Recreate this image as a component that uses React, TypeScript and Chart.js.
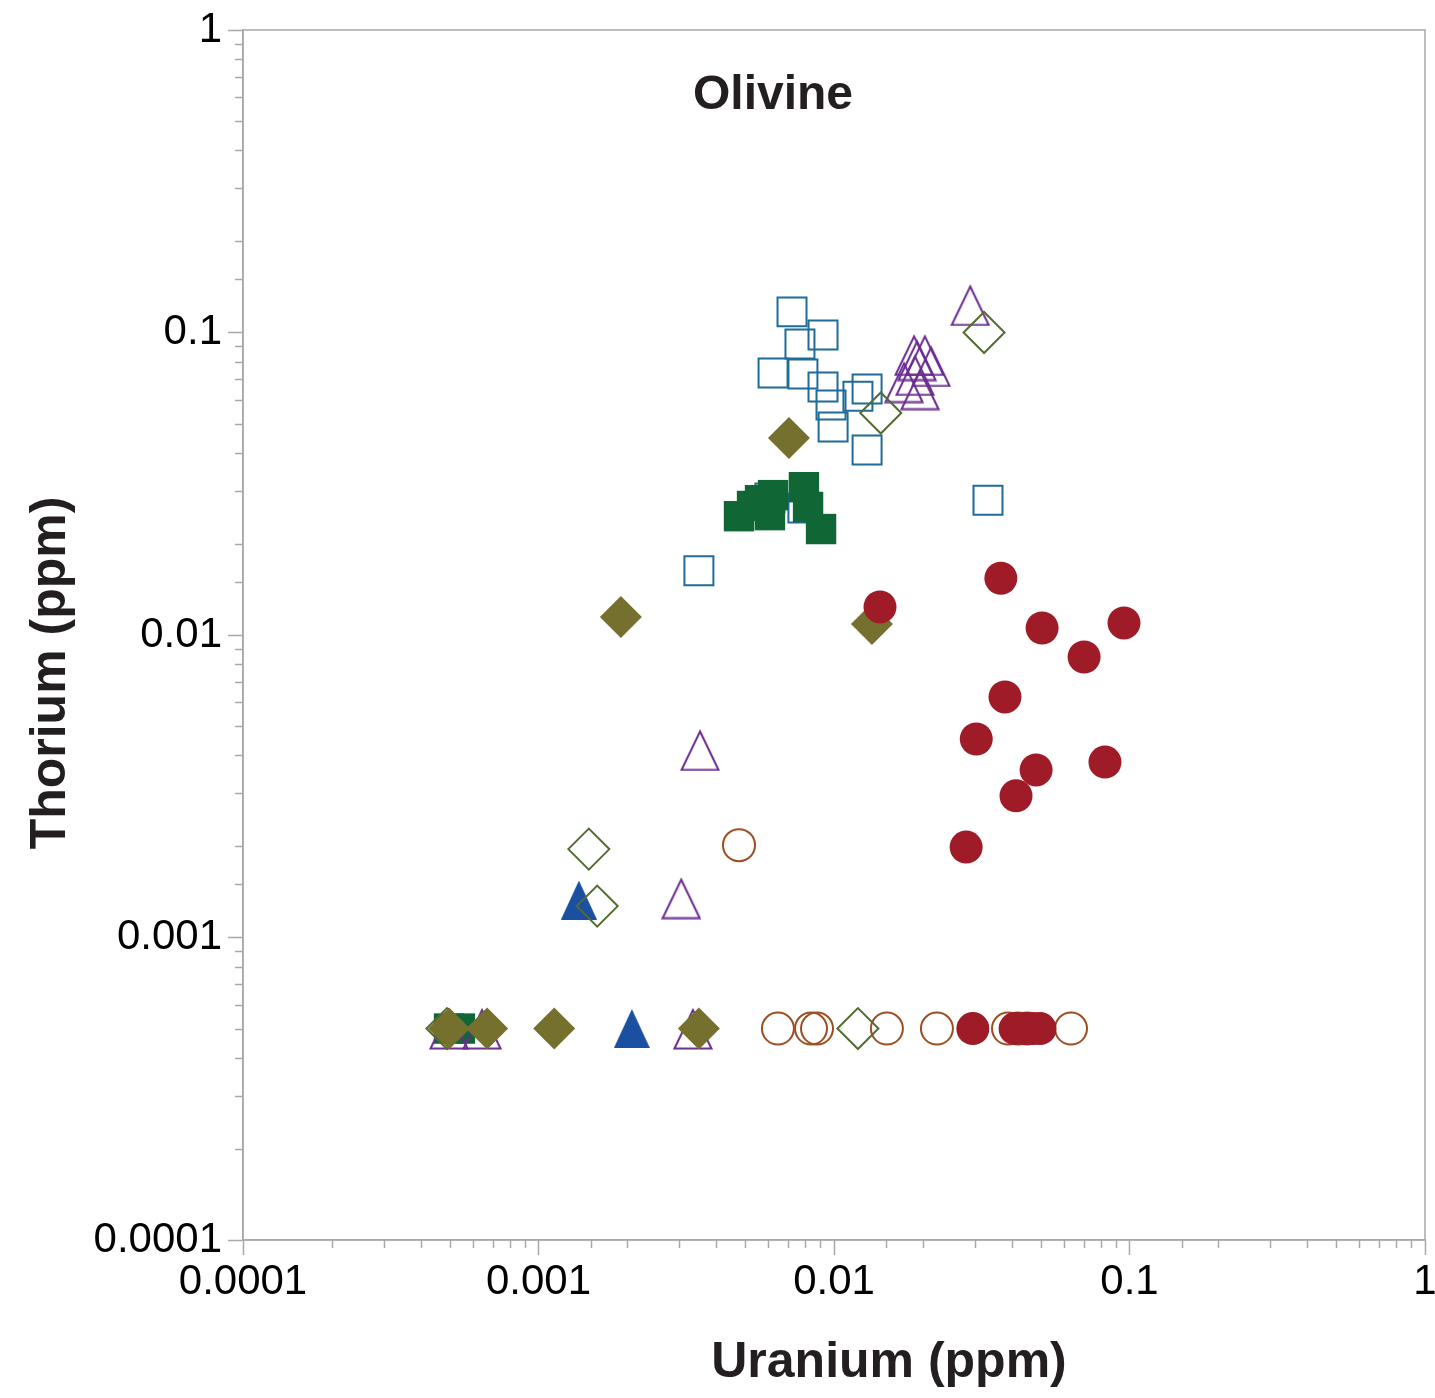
import React, { useEffect, useRef } from 'react';
import { Chart, registerables } from 'chart.js';

Chart.register(...registerables);

// ---------- text ----------
const chartTitle = 'Olivine';
const xTitle = 'Uranium (ppm)';
const yTitle = 'Thorium (ppm)';
const xTickLabels = ['0.0001', '0.001', '0.01', '0.1', '1'];
const yTickLabels = ['0.0001', '0.001', '0.01', '0.1', '1'];

// ---------- data ----------
const blueOpenSquaresX = [0.00721, 0.00918, 0.00767, 0.00622, 0.00785, 0.00918, 0.00977, 0.00993, 0.01205, 0.01294, 0.01294, 0.0332, 0.00349, 0.00607, 0.00785];
const blueOpenSquaresY = [0.117, 0.0981, 0.0916, 0.0735, 0.0729, 0.066, 0.0576, 0.0487, 0.0615, 0.065, 0.0409, 0.0279, 0.0163, 0.0284, 0.0263];

const greenSquaresX = [0.00477, 0.00528, 0.00562, 0.00607, 0.00622, 0.00791, 0.00817, 0.00904, 0.000498, 0.000542];
const greenSquaresY = [0.0247, 0.0267, 0.0279, 0.0249, 0.029, 0.0308, 0.0265, 0.0224, 0.0005, 0.0005];

const oliveDiamondsX = [0.00704, 0.0019, 0.01344, 0.000498, 0.00067, 0.00113, 0.00349];
const oliveDiamondsY = [0.0448, 0.01147, 0.01087, 0.0005, 0.0005, 0.0005, 0.0005];

const greenOpenDiamondsX = [0.0322, 0.0144, 0.00148, 0.00158, 0.01205, 0.00049];
const greenOpenDiamondsY = [0.1, 0.0542, 0.00196, 0.00127, 0.0005, 0.0005];

const purpleOpenTrianglesX = [0.0289, 0.01866, 0.0203, 0.0191, 0.0213, 0.0188, 0.01726, 0.01955, 0.00352, 0.00304, 0.000498, 0.000644, 0.00333];
const purpleOpenTrianglesY = [0.1233, 0.0843, 0.0843, 0.0811, 0.0775, 0.0724, 0.0686, 0.065, 0.00417, 0.00135, 0.0005, 0.0005, 0.0005];

const blueTrianglesX = [0.00137, 0.00207];
const blueTrianglesY = [0.00133, 0.0005];

const brownOpenCirclesX = [0.00477, 0.00646, 0.00836, 0.00876, 0.0151, 0.0223, 0.0388, 0.042, 0.045, 0.0634];
const brownOpenCirclesY = [0.00202, 0.0005, 0.0005, 0.0005, 0.0005, 0.0005, 0.0005, 0.0005, 0.0005, 0.0005];

const redCirclesX = [0.01431, 0.0367, 0.0506, 0.0958, 0.0702, 0.0379, 0.0303, 0.0483, 0.0826, 0.0413, 0.028, 0.0295, 0.041, 0.0443, 0.0471, 0.0498];
const redCirclesY = [0.01238, 0.0154, 0.01055, 0.01096, 0.00846, 0.00624, 0.00453, 0.00358, 0.0038, 0.00294, 0.00199, 0.0005, 0.0005, 0.0005, 0.0005, 0.0005];

// ---------- helpers ----------
const FONT = "'Liberation Sans', Arial, Helvetica, sans-serif";
const AXIS_GRAY = '#a8a8a8';

const zip = (xs: number[], ys: number[]) => xs.map((x, i) => ({ x, y: ys[i] }));
const isPow10 = (v: number) => {
  const l = Math.log10(v);
  return Math.abs(l - Math.round(l)) < 1e-9;
};

function makeTriangle(w: number, h: number, color: string, filled: boolean, lw: number) {
  const c = document.createElement('canvas');
  c.width = w;
  c.height = h;
  const g = c.getContext('2d')!;
  const m = filled ? 0 : lw / 2 + 0.5;
  g.beginPath();
  g.moveTo(w / 2, filled ? 0 : 3);
  g.lineTo(w - m, h - m);
  g.lineTo(m, h - m);
  g.closePath();
  if (filled) {
    g.fillStyle = color;
    g.fill();
  } else {
    g.strokeStyle = color;
    g.lineWidth = lw;
    g.lineJoin = 'miter';
    g.stroke();
  }
  return c;
}

const decorPlugin = {
  id: 'decor',
  afterDraw(chart: any) {
    const { ctx, chartArea: a, scales } = chart;
    ctx.save();
    // frame
    ctx.strokeStyle = AXIS_GRAY;
    ctx.lineWidth = 1.5;
    ctx.strokeRect(a.left, a.top, a.right - a.left, a.bottom - a.top);
    // minor ticks
    const xs = scales.x;
    xs.ticks.forEach((t: any) => {
      if (isPow10(t.value)) return;
      const px = Math.round(xs.getPixelForValue(t.value)) + 0.5;
      ctx.beginPath();
      ctx.moveTo(px, a.bottom);
      ctx.lineTo(px, a.bottom + 8);
      ctx.stroke();
    });
    const ys = scales.y;
    ys.ticks.forEach((t: any) => {
      if (isPow10(t.value)) return;
      const py = Math.round(ys.getPixelForValue(t.value)) + 0.5;
      ctx.beginPath();
      ctx.moveTo(a.left, py);
      ctx.lineTo(a.left - 8, py);
      ctx.stroke();
    });
    // titles
    ctx.fillStyle = '#231f20';
    ctx.textAlign = 'center';
    ctx.textBaseline = 'alphabetic';
    ctx.font = `bold 48px ${FONT}`;
    ctx.fillText(chartTitle, a.left + 530, a.top + 79);
    ctx.font = `bold 50px ${FONT}`;
    ctx.fillText(xTitle, a.left + 646, a.bottom + 137);
    ctx.save();
    ctx.translate(a.left - 178, a.top + 643);
    ctx.rotate(-Math.PI / 2);
    ctx.fillText(yTitle, 0, 0);
    ctx.restore();
    ctx.restore();
  },
};

export default function App() {
  const ref = useRef<HTMLCanvasElement | null>(null);

  useEffect(() => {
    document.body.style.margin = '0';
    if (!ref.current) return;
    const purpleTri = makeTriangle(40, 43, '#6a2c91', false, 2);
    const blueTri = makeTriangle(36, 39, '#1b4f9f', true, 0);

    const datasets: any[] = [
      {
        label: 'red filled circles',
        data: zip(redCirclesX, redCirclesY),
        pointStyle: 'circle',
        pointRadius: 16.5,
        backgroundColor: '#9e1b27',
        borderColor: '#9e1b27',
        borderWidth: 0,
        order: 1,
      },
      {
        label: 'olive filled diamonds',
        data: zip(oliveDiamondsX, oliveDiamondsY),
        pointStyle: 'rectRot',
        pointRadius: 21,
        backgroundColor: '#76702e',
        borderColor: '#76702e',
        borderWidth: 0,
        order: 2,
      },
      {
        label: 'green open diamonds',
        data: zip(greenOpenDiamondsX, greenOpenDiamondsY),
        pointStyle: 'rectRot',
        pointRadius: 20.5,
        backgroundColor: 'rgba(0,0,0,0)',
        borderColor: '#536c31',
        borderWidth: 2,
        order: 3,
      },
      {
        label: 'blue filled triangles',
        data: zip(blueTrianglesX, blueTrianglesY),
        pointStyle: blueTri,
        pointRadius: 18,
        order: 4,
      },
      {
        label: 'purple open triangles',
        data: zip(purpleOpenTrianglesX, purpleOpenTrianglesY),
        pointStyle: purpleTri,
        pointRadius: 20,
        order: 5,
      },
      {
        label: 'brown open circles',
        data: zip(brownOpenCirclesX, brownOpenCirclesY),
        pointStyle: 'circle',
        pointRadius: 16,
        backgroundColor: 'rgba(0,0,0,0)',
        borderColor: '#9e4f22',
        borderWidth: 2,
        order: 6,
      },
      {
        label: 'green filled squares',
        data: zip(greenSquaresX, greenSquaresY),
        pointStyle: 'rect',
        pointRadius: 21.5,
        backgroundColor: '#116636',
        borderColor: '#116636',
        borderWidth: 0,
        order: 7,
      },
      {
        label: 'blue open squares',
        data: zip(blueOpenSquaresX, blueOpenSquaresY),
        pointStyle: 'rect',
        pointRadius: 20.5,
        backgroundColor: 'rgba(0,0,0,0)',
        borderColor: '#1f6b99',
        borderWidth: 2,
        order: 8,
      },
    ];

    const chart = new Chart(ref.current, {
      type: 'scatter',
      data: { datasets },
      plugins: [decorPlugin],
      options: {
        animation: false,
        responsive: false,
        devicePixelRatio: 1,
        events: [],
        layout: { autoPadding: false, padding: { top: 30, right: 10, left: 0, bottom: 0 } },
        plugins: {
          legend: { display: false },
          tooltip: { enabled: false },
          title: { display: false },
        },
        scales: {
          x: {
            type: 'logarithmic',
            min: 0.0001,
            max: 1,
            afterFit: (s: any) => {
              s.height = 158;
              s.paddingLeft = 0;
              s.paddingRight = 0;
            },
            border: { display: true, color: AXIS_GRAY, width: 1.5 },
            grid: {
              drawOnChartArea: false,
              drawTicks: true,
              tickLength: 15,
              tickWidth: 1.5,
              tickColor: (c: any) => (c.tick && isPow10(c.tick.value) ? AXIS_GRAY : 'rgba(0,0,0,0)'),
            },
            ticks: {
              autoSkip: false,
              maxRotation: 0,
              minRotation: 0,
              padding: 2,
              color: '#000',
              font: { family: FONT, size: 42 },
              callback: (v: any) => (isPow10(Number(v)) ? xTickLabels[Math.round(Math.log10(Number(v))) + 4] : ''),
            },
          },
          y: {
            type: 'logarithmic',
            min: 0.0001,
            max: 1,
            afterFit: (s: any) => {
              s.width = 243;
              s.paddingTop = 0;
              s.paddingBottom = 0;
            },
            border: { display: true, color: AXIS_GRAY, width: 1.5 },
            grid: {
              drawOnChartArea: false,
              drawTicks: true,
              tickLength: 15,
              tickWidth: 1.5,
              tickColor: (c: any) => (c.tick && isPow10(c.tick.value) ? AXIS_GRAY : 'rgba(0,0,0,0)'),
            },
            ticks: {
              autoSkip: false,
              padding: 6,
              color: '#000',
              font: { family: FONT, size: 42 },
              callback: (v: any) => (isPow10(Number(v)) ? yTickLabels[Math.round(Math.log10(Number(v))) + 4] : ''),
            },
          },
        },
      } as any,
    });
    return () => chart.destroy();
  }, []);

  return (
    <div style={{ width: 1435, height: 1398, background: '#fff' }}>
      <canvas ref={ref} width={1435} height={1398} style={{ display: 'block' }} />
    </div>
  );
}
